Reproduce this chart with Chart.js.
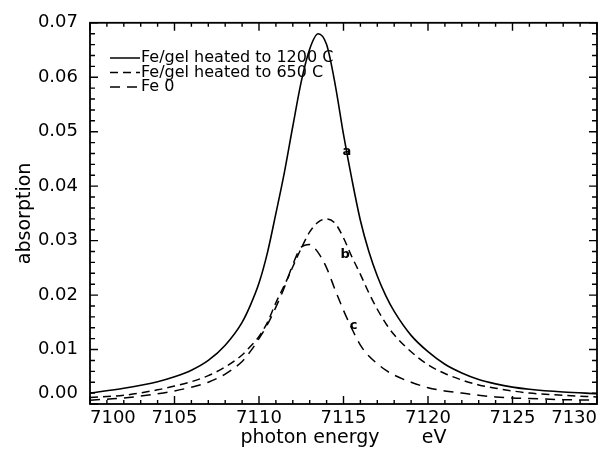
<!DOCTYPE html>
<html lang="en">
<head>
  <meta charset="UTF-8">
  <title>absorption</title>
  <script src="https://cdn.jsdelivr.net/npm/chart.js"></script>
  <style>
    body { margin: 0; background: #fff; }
  </style>
</head>
<body>
  <canvas id="absChart" width="606" height="456"></canvas>

  <script>
    // photon energy (eV)
    const energies = [7100, 7102, 7104, 7105, 7106, 7107, 7108, 7109, 7109.5, 7110, 7110.5,
      7111, 7111.5, 7112, 7112.5, 7113, 7113.5, 7114, 7114.5, 7115, 7115.5,
      7116, 7116.5, 7117, 7117.5, 7118, 7119, 7120, 7121, 7122, 7123,
      7124, 7125, 7126, 7128, 7130];

    // a: Fe/gel heated to 1200 C
    const gel1200 = [0.0020, 0.0029, 0.0041, 0.0050, 0.0062, 0.0080, 0.0108, 0.0150, 0.0182, 0.0222, 0.0278,
      0.0350, 0.0425, 0.0510, 0.0592, 0.0652, 0.0680, 0.0660, 0.0588, 0.0495, 0.0412,
      0.0337, 0.0280, 0.0235, 0.0199, 0.0170, 0.0126, 0.0096, 0.0073, 0.0057, 0.0045,
      0.0037, 0.0031, 0.0027, 0.0022, 0.0019];

    // b: Fe/gel heated to 650 C
    const gel650 = [0.0012, 0.0016, 0.0026, 0.0033, 0.0041, 0.0052, 0.0068, 0.0090, 0.0106, 0.0124, 0.0150,
      0.0186, 0.0218, 0.0252, 0.0286, 0.0316, 0.0334, 0.0340, 0.0332, 0.0305, 0.0270,
      0.0238, 0.0204, 0.0174, 0.0148, 0.0127, 0.0096, 0.0072, 0.0056, 0.0044, 0.0035,
      0.0029, 0.0024, 0.0020, 0.0016, 0.0013];

    // c: Fe 0
    const fe0 = [0.0007, 0.0011, 0.0019, 0.0024, 0.0031, 0.0040, 0.0055, 0.0078, 0.0097, 0.0120, 0.0146,
      0.0178, 0.0214, 0.0256, 0.0288, 0.0293, 0.0278, 0.0250, 0.0210, 0.0172, 0.0138,
      0.0108, 0.0088, 0.0074, 0.0062, 0.0053, 0.0040, 0.0030, 0.0024, 0.0020, 0.0016,
      0.0013, 0.0011, 0.0010, 0.0008, 0.0007];

    const seriesLabels = ['Fe/gel heated to 1200 C', 'Fe/gel heated to 650 C', 'Fe 0'];
    const curveTags = ['a', 'b', 'c'];
    const tagX = [7115.2, 7115.1, 7115.6];
    const tagY = [0.0463, 0.0275, 0.0144];

    const xTicks = [7100, 7105, 7110, 7115, 7120, 7125, 7130];

    const toPoints = vals => energies.map((e, i) => ({ x: e, y: vals[i] }));

    // ticks pointing into the plot on all four sides, plus the frame
    const frameTicks = {
      id: 'frameTicks',
      afterDraw(chart) {
        const { ctx, chartArea: a, scales: { x, y } } = chart;
        ctx.save();
        ctx.strokeStyle = '#000';
        ctx.lineWidth = 1.8;
        ctx.strokeRect(a.left, a.top, a.right - a.left, a.bottom - a.top);
        ctx.lineWidth = 1.4;
        ctx.beginPath();
        for (let e = 7100; e <= 7130; e++) {
          const px = x.getPixelForValue(e);
          const len = e % 5 === 0 ? 8 : 4;
          ctx.moveTo(px, a.bottom); ctx.lineTo(px, a.bottom - len);
          ctx.moveTo(px, a.top); ctx.lineTo(px, a.top + len);
        }
        for (let i = 0; i <= 35; i++) {
          const py = y.getPixelForValue(i * 0.002);
          const len = i % 5 === 0 ? 8 : 5;
          ctx.moveTo(a.left, py); ctx.lineTo(a.left + len, py);
          ctx.moveTo(a.right, py); ctx.lineTo(a.right - len, py);
        }
        ctx.stroke();

        // legend
        ctx.font = '16px "DejaVu Sans"';
        ctx.fillStyle = '#000';
        ctx.textBaseline = 'middle';
        chart.data.datasets.forEach((ds, i) => {
          const ly = 58 + i * 14.5;
          ctx.beginPath();
          ctx.setLineDash(ds.borderDash || []);
          ctx.lineWidth = 1.5;
          ctx.moveTo(110, ly); ctx.lineTo(140, ly);
          ctx.stroke();
          ctx.setLineDash([]);
          ctx.fillText(ds.label, 141, ly);
        });

        // curve tags
        ctx.font = 'bold 13px "DejaVu Sans"';
        ctx.textAlign = 'center';
        curveTags.forEach((t, i) => {
          ctx.fillText(t, x.getPixelForValue(tagX[i]), y.getPixelForValue(tagY[i]));
        });
        ctx.restore();
      }
    };

    const font18 = { family: '"DejaVu Sans"', size: 18 };
    const font19 = { family: '"DejaVu Sans"', size: 19 };

    new Chart(document.getElementById('absChart'), {
      type: 'line',
      data: {
        datasets: [
          { label: seriesLabels[0], data: toPoints(gel1200), borderColor: '#000', borderWidth: 1.6 },
          { label: seriesLabels[1], data: toPoints(gel650), borderColor: '#000', borderWidth: 1.5, borderDash: [8, 5] },
          { label: seriesLabels[2], data: toPoints(fe0), borderColor: '#000', borderWidth: 1.5, borderDash: [10, 7] }
        ]
      },
      options: {
        responsive: false,
        animation: false,
        layout: { padding: { top: 20, right: 9, left: 0, bottom: 0 } },
        elements: {
          point: { radius: 0 },
          line: { cubicInterpolationMode: 'monotone', fill: false }
        },
        plugins: {
          legend: { display: false },
          tooltip: { enabled: false }
        },
        scales: {
          x: {
            type: 'linear',
            min: 7100,
            max: 7130,
            afterFit: s => { s.height = 52; },
            afterBuildTicks: s => { s.ticks = xTicks.map(v => ({ value: v })); },
            grid: { display: false, drawTicks: false, tickLength: 0 },
            border: { display: false },
            ticks: { font: font18, color: '#000', padding: 4, align: 'inner', maxRotation: 0, callback: v => String(v) },
            title: { display: true, text: 'photon energy       eV', font: font19, color: '#000', padding: { top: 0, bottom: 7 } }
          },
          y: {
            min: 0,
            max: 0.07,
            afterFit: s => { s.width = 90; },
            grid: { display: false, drawTicks: false, tickLength: 0 },
            border: { display: false },
            ticks: {
              stepSize: 0.01, font: font18, color: '#000', padding: 12,
              callback: v => v === 0 ? ['0.00', ''] : v.toFixed(2)
            },
            title: { display: true, text: 'absorption', font: font19, color: '#000', padding: { top: 14, bottom: 0 } }
          }
        }
      },
      plugins: [frameTicks]
    });
  </script>
</body>
</html>
